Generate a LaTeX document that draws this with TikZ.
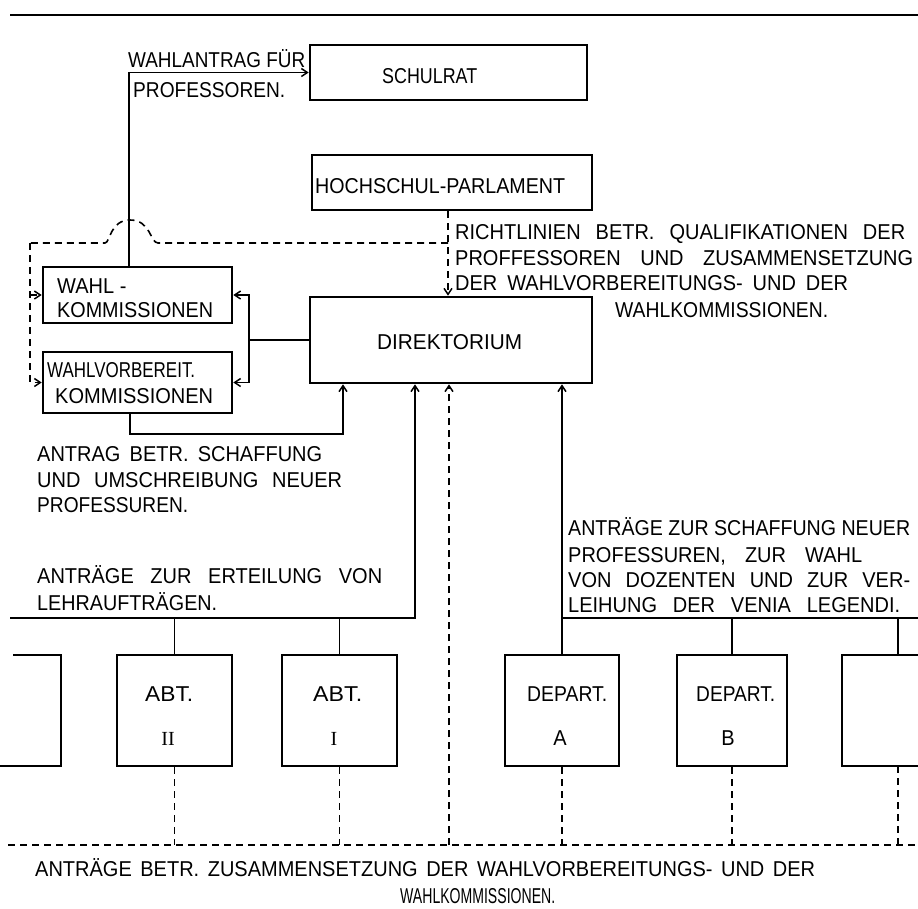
\documentclass[tikz,border=0pt]{standalone}
\usepackage{fontspec}
\setmainfont[FakeStretch=0.93]{Liberation Sans}
\newfontfamily\romfont{Liberation Serif}
\usetikzlibrary{arrows.meta,calc}

% one line of lettering, its word spaces spread (or the line squeezed) to a given width
\newsavebox\fitbox
\newcommand\fitto[2]{%
  \sbox\fitbox{#2}%
  \ifdim\wd\fitbox>#1\relax
    \resizebox{#1}{\height}{\usebox\fitbox}%
  \else
    \makebox[#1][s]{#2}%
  \fi}
% a single word, stretched or squeezed to a given width
\newcommand\fitw[2]{\resizebox{#1}{\height}{#2}}

\tikzset{
  unitbox/.style={draw, line width=2.6pt, minimum width=#1, inner sep=0pt},
  lbl/.style={anchor=base west, inner sep=0pt, font=\fontsize{21.5}{25}\selectfont},
  clbl/.style={anchor=base, inner sep=0pt, font=\fontsize{21.5}{25}\selectfont},
  numl/.style={anchor=base, inner sep=0pt, font=\romfont\fontsize{20}{24}\selectfont},
  wire/.style={line width=1.7pt},
  dsh/.style={line width=1.6pt, dash pattern=on 7pt off 5pt},
  arr/.style={-{Straight Barb[length=6pt,width=8pt,line width=1.5pt]}},
}

\begin{document}
\begin{tikzpicture}[x=1pt,y=-1pt]
\useasboundingbox (0,0) rectangle (918,908);
\clip (0,0) rectangle (918,908);

% heading rule
\draw[line width=2.8pt] (10,15) -- (918,15);

% upper boxes
\node[unitbox=277pt, minimum height=55pt] (schulrat) at (448.5,72.5) {};
\node[unitbox=280pt, minimum height=55pt] (parlament) at (452,182.5) {};
\node[unitbox=282pt, minimum height=86pt] (direktorium) at (451,340) {};
\node[unitbox=189pt, minimum height=56pt] (wahlkomm) at (137.5,295) {};
\node[unitbox=189pt, minimum height=61pt] (wahlvorb) at (137.5,382.5) {};

% lower row of units
\node[unitbox=115pt, minimum height=111pt] (abt2) at (174.5,710.5) {};
\node[unitbox=115pt, minimum height=111pt] (abt1) at (339.5,710.5) {};
\node[unitbox=114pt, minimum height=111pt] (depa) at (562,710.5) {};
\node[unitbox=110pt, minimum height=111pt] (depb) at (732,710.5) {};
% units cut off at both edges
\draw[line width=2.6pt] (13,655) -- (61,655) -- (61,766) -- (0,766);
\draw[line width=2.6pt] (918,655) -- (842,655) -- (842,766) -- (918,766);

% box lettering
\node[lbl] (tschulrat) at (382,83) {\fitw{95pt}{SCHULRAT}};
\node[lbl] (tparl) at (315,193) {\fitw{250pt}{HOCHSCHUL-PARLAMENT}};
\node[lbl] (tdir) at (377,349) {\fitw{145pt}{DIREKTORIUM}};
\node[lbl] (twk1) at (57,293) {WAHL -};
\node[lbl] (twk2) at (57,317) {\fitw{156pt}{KOMMISSIONEN}};
\node[lbl] (twv1) at (47,377) {\fitw{148pt}{WAHLVORBEREIT.}};
\node[lbl] (twv2) at (55,403) {\fitw{158pt}{KOMMISSIONEN}};
\node[lbl] (tabt2) at (145,701) {\fitw{48pt}{ABT.}};
\node[numl] (nabt2) at (168,745) {II};
\node[lbl] (tabt1) at (313,701) {\fitw{49pt}{ABT.}};
\node[numl] (nabt1) at (334,745) {I};
\node[lbl] (tdepa) at (527,701) {\fitw{80pt}{DEPART.}};
\node[clbl] (ndepa) at (560,745) {A};
\node[lbl] (tdepb) at (696,701) {\fitw{79pt}{DEPART.}};
\node[clbl] (ndepb) at (728,745) {B};

% election request to the Schulrat
\draw[wire,arr] ([xshift=-8.5pt]wahlkomm.north) |- (schulrat.west);
\node[lbl] (lw1) at (128,67) {\fitto{177pt}{WAHLANTRAG FÜR}};
\node[lbl] (lw2) at (133,97) {\fitw{152pt}{PROFESSOREN.}};

% guidelines from the parliament
\draw[dsh,arr] ([xshift=-4pt]parlament.south) -- ([xshift=-4pt]parlament.south |- direktorium.north);
\coordinate (jn) at (448,243);
\coordinate (lc) at (30,243);
\draw[dsh] (jn) -- (158,243)
  .. controls (150,243) and (151,220) .. (130,220)
  .. controls (110,220) and (110,243) .. (105,243) -- (lc);
\draw[dsh,arr] (lc) |- (wahlvorb.west);
\draw[dsh,arr] (lc |- wahlkomm.west) -- (wahlkomm.west);
\node[lbl] (lr1) at (455,239) {\fitto{450pt}{RICHTLINIEN BETR. QUALIFIKATIONEN DER}};
\node[lbl] (lr2) at (455,265) {\fitto{458pt}{PROFFESSOREN UND ZUSAMMENSETZUNG}};
\node[lbl] (lr3) at (455,290) {\fitto{393pt}{DER WAHLVORBEREITUNGS- UND DER}};
\node[lbl] (lr4) at (615,317) {\fitw{213pt}{WAHLKOMMISSIONEN.}};

% Direktorium to both commissions
\draw[wire] (direktorium.west) -- ++(-60,0) coordinate (bk);
\draw[wire,arr] (bk) |- (wahlkomm.east);
\draw[wire,arr] (bk) |- (wahlvorb.east);

% proposal back from the preparatory commissions
\draw[wire,arr] ([xshift=-7.5pt]wahlvorb.south) -- ++(0,20) -| ([xshift=-108pt]direktorium.south);
\node[lbl] (la1) at (37,461) {\fitto{285pt}{ANTRAG BETR. SCHAFFUNG}};
\node[lbl] (la2) at (37,487) {\fitto{305pt}{UND UMSCHREIBUNG NEUER}};
\node[lbl] (la3) at (37,512) {\fitw{151pt}{PROFESSUREN.}};

% Abteilungen to the Direktorium
\coordinate (ll) at (10,618);
\draw[wire,arr] (ll) -| ([xshift=-36pt]direktorium.south);
\draw[wire] (abt2.north) -- (abt2.north |- ll);
\draw[wire] (abt1.north) -- (abt1.north |- ll);
\node[lbl] (le1) at (37,583) {\fitto{345pt}{ANTRÄGE ZUR ERTEILUNG VON}};
\node[lbl] (le2) at (37,610) {\fitw{180pt}{LEHRAUFTRÄGEN.}};

% Departemente to the Direktorium
\coordinate (rr) at (918,618);
\coordinate (rtop) at (898,655);
\draw[wire,arr] (depa.north) -- (depa.north |- direktorium.south);
\draw[wire] (depa.north |- rr) -- (rr);
\draw[wire] (depb.north) -- (depb.north |- rr);
\draw[wire] (rtop) -- (rtop |- rr);
\node[lbl] (ld1) at (568,535) {\fitto{342pt}{ANTRÄGE ZUR SCHAFFUNG NEUER}};
\node[lbl] (ld2) at (568,562) {\fitto{294pt}{PROFESSUREN, ZUR WAHL}};
\node[lbl] (ld3) at (568,587) {\fitto{342pt}{VON DOZENTEN UND ZUR VER-}};
\node[lbl] (ld4) at (568,612) {\fitto{332pt}{LEIHUNG DER VENIA LEGENDI.}};

% composition proposals from all units
\coordinate (bl) at (8,845);
\coordinate (rbot) at (898,766);
\draw[dsh] (bl) -- (918,845);
\draw[dsh,arr] ([xshift=-2pt]direktorium.south |- bl) -- ([xshift=-2pt]direktorium.south);
\draw[dsh] (abt2.south) -- (abt2.south |- bl);
\draw[dsh] (abt1.south) -- (abt1.south |- bl);
\draw[dsh] (depa.south) -- (depa.south |- bl);
\draw[dsh] (depb.south) -- (depb.south |- bl);
\draw[dsh] (rbot) -- (rbot |- bl);
\node[lbl] (lb1) at (35,876) {\fitto{780pt}{ANTRÄGE BETR. ZUSAMMENSETZUNG DER WAHLVORBEREITUNGS- UND DER}};
\node[lbl] (lb2) at (400,903) {\fitw{155pt}{WAHLKOMMISSIONEN.}};
\end{tikzpicture}
\end{document}
